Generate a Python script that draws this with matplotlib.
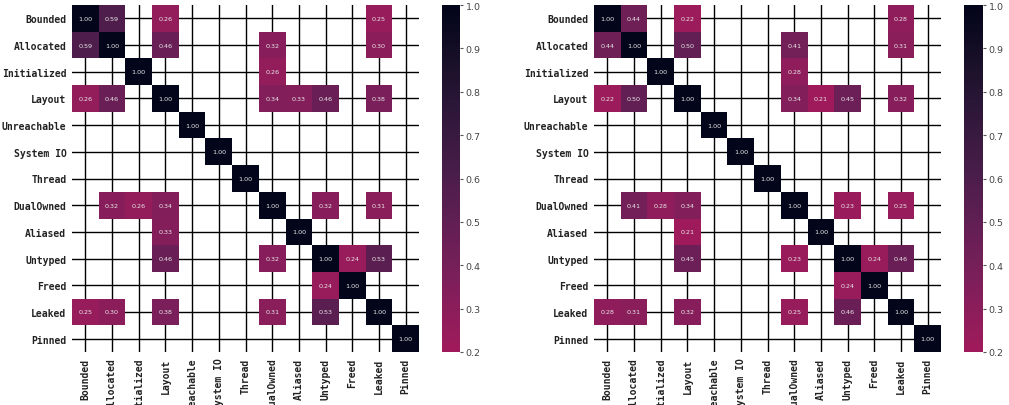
import numpy as np
import matplotlib
matplotlib.use("Agg")
import matplotlib.pyplot as plt
from matplotlib.colors import ListedColormap, Normalize
import seaborn as sns

labels = ["Bounded", "Allocated", "Initialized", "Layout", "Unreachable", "System IO",
          "Thread", "DualOwned", "Aliased", "Untyped", "Freed", "Leaked", "Pinned"]

# off-diagonal correlations shown (|r| >= 0.2), as (row, col, value), symmetric
left_pairs = [
    ("Bounded", "Allocated", 0.59), ("Bounded", "Layout", 0.26), ("Bounded", "Leaked", 0.25),
    ("Allocated", "Layout", 0.46), ("Allocated", "DualOwned", 0.32), ("Allocated", "Leaked", 0.30),
    ("Initialized", "DualOwned", 0.26),
    ("Layout", "DualOwned", 0.34), ("Layout", "Aliased", 0.33), ("Layout", "Untyped", 0.46),
    ("Layout", "Leaked", 0.38),
    ("DualOwned", "Untyped", 0.32), ("DualOwned", "Leaked", 0.31),
    ("Untyped", "Freed", 0.24), ("Untyped", "Leaked", 0.53),
]
right_pairs = [
    ("Bounded", "Allocated", 0.44), ("Bounded", "Layout", 0.22), ("Bounded", "Leaked", 0.28),
    ("Allocated", "Layout", 0.50), ("Allocated", "DualOwned", 0.41), ("Allocated", "Leaked", 0.31),
    ("Initialized", "DualOwned", 0.28),
    ("Layout", "DualOwned", 0.34), ("Layout", "Aliased", 0.21), ("Layout", "Untyped", 0.45),
    ("Layout", "Leaked", 0.32),
    ("DualOwned", "Untyped", 0.23), ("DualOwned", "Leaked", 0.25),
    ("Untyped", "Freed", 0.24), ("Untyped", "Leaked", 0.46),
]
diag_value = 1.00
vmin, vmax = 0.2, 1.0


def build(pairs):
    n = len(labels)
    m = np.full((n, n), np.nan)
    np.fill_diagonal(m, diag_value)
    for a, b, v in pairs:
        i, j = labels.index(a), labels.index(b)
        m[i, j] = v
        m[j, i] = v
    return m


base = sns.color_palette("rocket_r", as_cmap=True)
cmap = ListedColormap(base(np.linspace(0.6, 1.0, 256)))
norm = Normalize(vmin, vmax)

W, H = 1009, 406
fig = plt.figure(figsize=(W / 100, H / 100), dpi=100)

mono = {"family": "DejaVu Sans Mono", "weight": "bold", "size": 7}


def draw(mat, x0, cbx0, cbw):
    ax = fig.add_axes([x0 / W, (H - 353) / H, 347 / W, 347 / H])
    cax = fig.add_axes([cbx0 / W, (H - 353) / H, cbw / W, 347 / H])
    n = len(labels)
    ax.set_axisbelow(True)
    ax.grid(True, color="black", linewidth=1.0)
    mesh = ax.pcolormesh(np.arange(n + 1), np.arange(n + 1), np.ma.masked_invalid(mat),
                         cmap=cmap, norm=norm, zorder=1)
    for i in range(n):
        for j in range(n):
            if not np.isnan(mat[i, j]):
                ax.text(j + 0.5, i + 0.5, f"{mat[i, j]:.2f}", ha="center", va="center",
                        fontsize=4.6, color="#e8e8e8", zorder=3)
    ax.set_xlim(0, n)
    ax.set_ylim(n, 0)
    ax.set_xticks(np.arange(n) + 0.5)
    ax.set_yticks(np.arange(n) + 0.5)
    ax.set_xticklabels(labels, rotation=90, fontdict=mono, color="#222222")
    ax.set_yticklabels(labels, fontdict=mono, color="#222222")
    ax.tick_params(length=0, pad=4)
    for s in ax.spines.values():
        s.set_visible(False)
    cb = fig.colorbar(mesh, cax=cax)
    cb.outline.set_visible(False)
    cb.set_ticks([0.2, 0.3, 0.4, 0.5, 0.6, 0.7, 0.8, 0.9, 1.0])
    cax.tick_params(labelsize=6.8, length=2.5, width=0.8, color="#555555",
                    labelcolor="#444444", pad=1.5)
    return ax


draw(build(left_pairs), 72, 442, 18)
draw(build(right_pairs), 594, 964, 19)

fig.savefig("out.png", dpi=100)
